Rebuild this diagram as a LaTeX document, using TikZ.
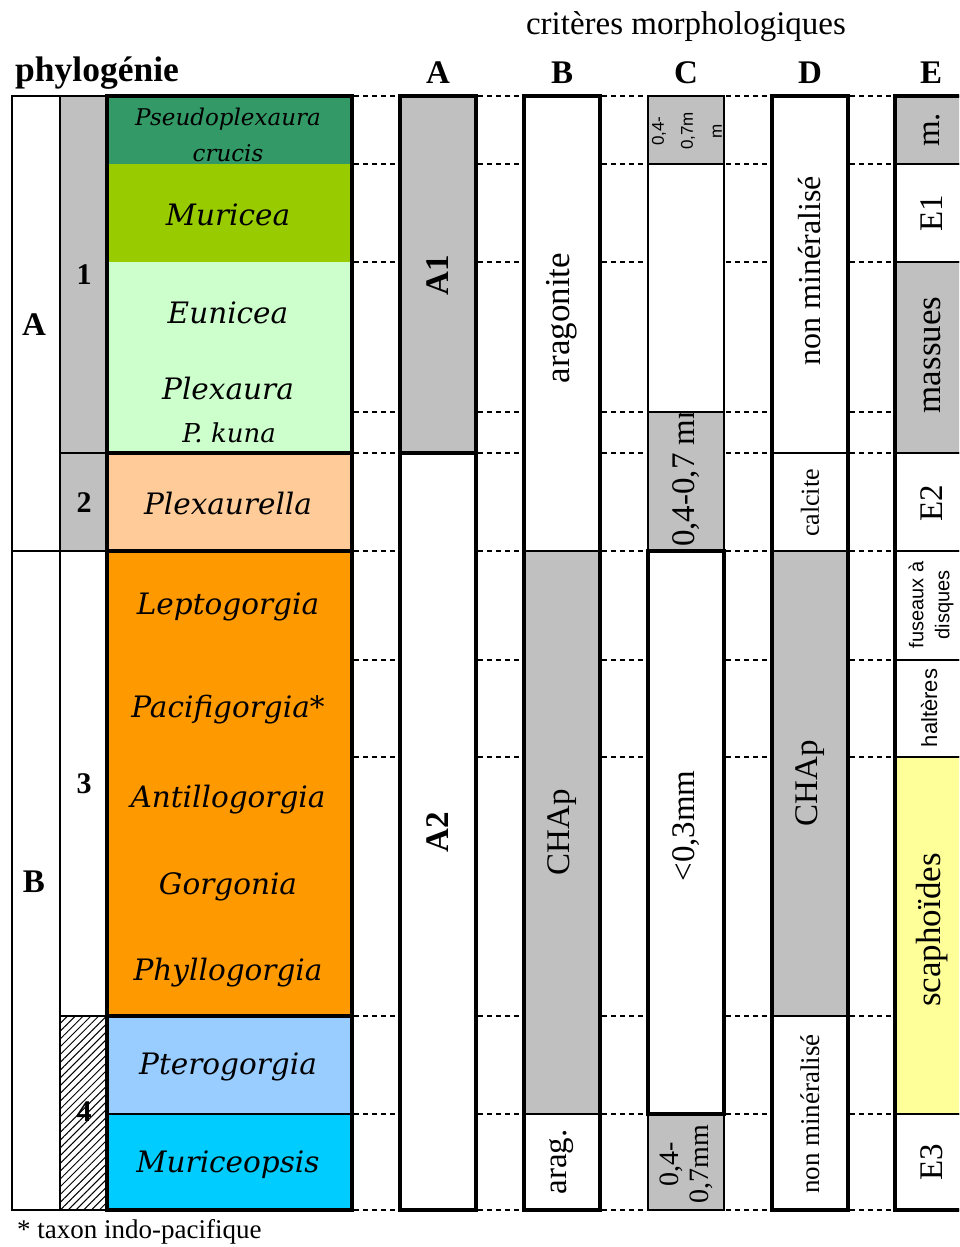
\documentclass[tikz,border=0pt]{standalone}
\usepackage{fontspec}
\setmainfont{Liberation Serif}
\setsansfont{Liberation Sans}
\newfontfamily\taxfont{DejaVu Serif}
\usetikzlibrary{patterns.meta}
\definecolor{dkgreen}{HTML}{339966}
\definecolor{lime}{HTML}{99CC00}
\definecolor{ltgreen}{HTML}{CCFFCC}
\definecolor{peach}{HTML}{FFCC99}
\definecolor{orng}{HTML}{FF9900}
\definecolor{ltblue}{HTML}{99CCFF}
\definecolor{cyanb}{HTML}{00CCFF}
\definecolor{grayc}{HTML}{C0C0C0}
\definecolor{yellowc}{HTML}{FFFF99}
\newcommand\mkcell[6]{%
  \pgfmathsetmacro\cellW{#4-#2}\pgfmathsetmacro\cellH{#5-#3}%
  \pgfmathsetmacro\cellX{(#2+#4)/2}\pgfmathsetmacro\cellY{(#3+#5)/2}%
  \node[cell,#6,minimum width=\cellW pt,minimum height=\cellH pt] (#1) at (\cellX,\cellY) {};}
\begin{document}
\begin{tikzpicture}[x=1pt,y=-1pt,
  cell/.style={rectangle,inner sep=0pt,outer sep=0pt,draw=black,line width=1.5pt,fill=white},
  nodraw/.style={draw=none},
  thickline/.style={draw=black,line width=3.5pt,line cap=rect},
  thinline/.style={draw=black,line width=1.5pt},
  dotline/.style={black,line width=1.8pt,dash pattern=on 5pt off 4pt},
  lab/.style={font=\fontsize{33}{36}\selectfont,inner sep=0pt},
  rlab/.style={lab,rotate=90},
  blab/.style={font=\bfseries\fontsize{33}{36}\selectfont,inner sep=0pt},
  tax/.style={font=\taxfont\itshape\fontsize{29.5}{32}\selectfont,inner sep=0pt,align=center},
]
\clip (0,0) rectangle (959,1247);
\fill[white] (0,0) rectangle (959,1247);
% headers
\node[lab] (crit) at (686,27) {critères morphologiques};
\node[blab,anchor=west,font=\bfseries\fontsize{35.5}{38}\selectfont] (phylo) at (15,73) {phylogénie};
\node[blab] (hA) at (438,73) {A};
\node[blab] (hB) at (562,73) {B};
\node[blab] (hC) at (686,73) {C};
\node[blab] (hD) at (810,73) {D};
\node[blab] (hE) at (931,73) {E};
% dotted guide lines
\foreach \yy in {96,164,262,412,453,551,660,757,1016,1114,1210}
  \foreach \ga/\gb in {352/400,476/524,600/648,724/772,848/895}
    \draw[dotline] (\ga+2,\yy) -- (\gb-2,\yy);
% phylogeny columns
\mkcell{PA}{12}{96}{60}{551}{}
\mkcell{PB}{12}{551}{60}{1210}{}
\mkcell{P1}{60}{96}{107}{453}{fill=grayc}
\mkcell{P2}{60}{453}{107}{551}{fill=grayc}
\mkcell{P3}{60}{551}{107}{1016}{}
\mkcell{P4}{60}{1016}{107}{1210}{pattern={Lines[angle=45,distance=5.5pt,line width=1pt]}}
\node[blab] (lA) at (34,325) {A};
\node[blab] (lB) at (34,882) {B};
\node[blab,font=\bfseries\fontsize{30}{32}\selectfont] (l1) at (84,275) {1};
\node[blab,font=\bfseries\fontsize{30}{32}\selectfont] (l2) at (84,503) {2};
\node[blab,font=\bfseries\fontsize{30}{32}\selectfont] (l3) at (84,784) {3};
\node[blab,font=\bfseries\fontsize{30}{32}\selectfont] (l4) at (84,1112) {4};
% taxa column
\mkcell{T1}{107}{96}{352}{164}{fill=dkgreen,nodraw}
\mkcell{T2}{107}{164}{352}{262}{fill=lime,nodraw}
\mkcell{T3}{107}{262}{352}{453}{fill=ltgreen,nodraw}
\mkcell{T4}{107}{453}{352}{551}{fill=peach,nodraw}
\mkcell{T5}{107}{551}{352}{1016}{fill=orng,nodraw}
\mkcell{T6}{107}{1016}{352}{1114}{fill=ltblue,nodraw}
\mkcell{T7}{107}{1114}{352}{1210}{fill=cyanb,nodraw}
\draw[thickline] (T4.north west) -- (T4.north east);
\draw[thickline] (T5.north west) -- (T5.north east);
\draw[thickline] (T6.north west) -- (T6.north east);
\draw[thinline] (T7.north west) -- (T7.north east);
\draw[thickline] (T1.north west) rectangle (T7.south east);
\node[tax,font=\taxfont\itshape\fontsize{23}{36}\selectfont] (tPs) at (228,135) {Pseudoplexaura\\crucis};
\node[tax] (tMu) at (228,215) {Muricea};
\node[tax] (tEu) at (228,313) {Eunicea};
\node[tax] (tPl) at (228,388) {Plexaura};
\node[tax,font=\taxfont\itshape\fontsize{26}{28}\selectfont] (tPk) at (229,433) {P. kuna};
\node[tax] (tPx) at (228,503) {Plexaurella};
\node[tax] (tLe) at (228,607) {Leptogorgia};
\node[tax] (tPa) at (228,710) {Pacifigorgia*};
\node[tax] (tAn) at (228,800) {Antillogorgia};
\node[tax] (tGo) at (228,887) {Gorgonia};
\node[tax] (tPh) at (228,973) {Phyllogorgia};
\node[tax] (tPt) at (228,1067) {Pterogorgia};
\node[tax] (tMo) at (228,1165) {Muriceopsis};
% column A
\mkcell{A1}{400}{96}{476}{453}{fill=grayc}
\mkcell{A2}{400}{453}{476}{1210}{}
\draw[thickline] (A2.north west) -- (A2.north east);
\draw[thickline] (A1.north west) rectangle (A2.south east);
\node[blab,rotate=90] (lA1) at (438,275) {A1};
\node[blab,rotate=90] (lA2) at (438,832) {A2};
% column B
\mkcell{B1}{524}{96}{600}{551}{}
\mkcell{B2}{524}{551}{600}{1114}{fill=grayc}
\mkcell{B3}{524}{1114}{600}{1210}{}
\draw[thickline] (B1.north west) rectangle (B3.south east);
\node[rlab,font=\fontsize{35}{36}\selectfont] (lB1) at (562,318) {aragonite};
\node[rlab] (lB2) at (562,832) {CHAp};
\node[rlab] (lB3) at (562,1162) {arag.};
% column C
\mkcell{C1}{648}{96}{724}{164}{fill=grayc}
\mkcell{C2}{648}{164}{724}{412}{}
\mkcell{C3}{648}{412}{724}{551}{fill=grayc}
\mkcell{C5}{648}{1114}{724}{1210}{fill=grayc}
\mkcell{C4}{648}{551}{724}{1114}{}
\draw[thickline] (C4.north west) rectangle (C4.south east);
\node[rlab,font=\sffamily\fontsize{17}{29}\selectfont,align=center] (lC1) at (687,131) {0,4-\\0,7m\\m};
\begin{scope}
  \clip (C3.north west) rectangle (C3.south east);
  \node[rlab,anchor=west] (lC3) at (686,547) {0,4-0,7 mm};
\end{scope}
\node[rlab] (lC4) at (686,826) {<0,3mm};
\node[rlab,font=\fontsize{28}{30}\selectfont,align=center] (lC5) at (686,1164) {0,4-\\0,7mm};
% column D
\mkcell{D1}{772}{96}{848}{453}{}
\mkcell{D2}{772}{453}{848}{551}{}
\mkcell{D3}{772}{551}{848}{1016}{fill=grayc}
\mkcell{D4}{772}{1016}{848}{1210}{}
\draw[thickline] (D1.north west) rectangle (D4.south east);
\node[rlab,font=\fontsize{32}{36}\selectfont] (lD1) at (810,271) {non minéralisé};
\node[rlab,font=\fontsize{26}{30}\selectfont] (lD2) at (810,503) {calcite};
\node[rlab] (lD3) at (810,783) {CHAp};
\node[rlab,font=\fontsize{27}{30}\selectfont] (lD4) at (810,1114) {non minéralisé};
% column E
\mkcell{E1}{895}{96}{971}{164}{fill=grayc}
\mkcell{E2}{895}{164}{971}{262}{}
\mkcell{E3}{895}{262}{971}{453}{fill=grayc}
\mkcell{E4}{895}{453}{971}{551}{}
\mkcell{E5}{895}{551}{971}{660}{}
\mkcell{E6}{895}{660}{971}{757}{}
\mkcell{E7}{895}{757}{971}{1114}{fill=yellowc}
\mkcell{E8}{895}{1114}{971}{1210}{}
\draw[thickline] (E1.north west) rectangle (E8.south east);
\node[rlab] (lE1) at (932,130) {m.};
\node[rlab] (lE2) at (932,213) {E1};
\node[rlab,font=\fontsize{35}{36}\selectfont] (lE3) at (932,355) {massues};
\node[rlab] (lE4) at (932,503) {E2};
\node[rlab,font=\sffamily\fontsize{20}{26}\selectfont,align=center] (lE5) at (931,605) {fuseaux à\\disques};
\node[rlab,font=\sffamily\fontsize{22}{26}\selectfont] (lE6) at (929,708) {haltères};
\node[rlab,font=\fontsize{35}{36}\selectfont] (lE7) at (932,930) {scaphoïdes};
\node[rlab] (lE8) at (932,1162) {E3};
% footnote
\node[lab,anchor=west,font=\fontsize{27}{30}\selectfont] (foot) at (17,1232) {* taxon indo-pacifique};
\end{tikzpicture}
\end{document}
